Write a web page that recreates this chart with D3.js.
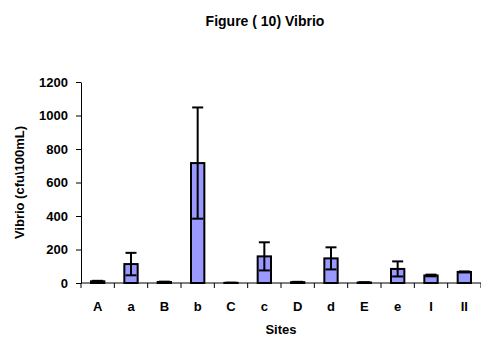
<!DOCTYPE html>
<html lang="en">
<head>
  <meta charset="UTF-8">
  <title>Figure (10) Vibrio</title>
  <script src="https://d3js.org/d3.v7.min.js"></script>
  <style>
    body {
      margin: 0;
      background: #fff;
      font-family: "Liberation Sans", Arial, sans-serif;
    }
    text {
      font-weight: bold;
      fill: #000;
    }
    .axis path,
    .axis line {
      stroke: #000;
      stroke-width: 1;
    }
    .axis text {
      font-size: 13px;
      font-weight: bold;
      font-family: "Liberation Sans", Arial, sans-serif;
    }
  </style>
</head>
<body>
  <svg width="481" height="340"></svg>
  <script>
    // Site labels and mean counts with their errors
    const sites = ["A", "a", "B", "b", "C", "c", "D", "d", "E", "e", "I", "II"];
    const means = [10, 113, 6, 716, 1, 159, 5, 147, 3, 84, 45, 66];
    const errors = [3, 67, 2, 332, 1, 84, 2, 66, 1, 45, 5, 3];
    const yTicks = [0, 200, 400, 600, 800, 1000, 1200];

    const margin = { top: 82, right: 0, bottom: 57, left: 81 };
    const width = 481 - margin.left - margin.right;
    const height = 340 - margin.top - margin.bottom;

    const svg = d3.select("svg");
    const chart = svg.append("g")
      .attr("transform", `translate(${margin.left},${margin.top})`);

    const data = sites.map((s, i) => ({ site: s, mean: means[i], err: errors[i] }));

    const x = d3.scaleBand()
      .domain(sites)
      .range([0, width])
      .paddingInner(0.6)
      .paddingOuter(0.3);

    const y = d3.scaleLinear()
      .domain([0, 1200])
      .range([height, 0]);

    // Title
    svg.append("text")
      .attr("x", 265)
      .attr("y", 26)
      .attr("text-anchor", "middle")
      .style("font-size", "14px")
      .text("Figure ( 10) Vibrio");

    // Y axis
    chart.append("g")
      .attr("class", "axis")
      .call(d3.axisLeft(y).tickValues(yTicks).tickFormat(d3.format("d"))
        .tickSize(5).tickPadding(8).tickSizeOuter(0));

    // X axis with ticks between categories
    const xAxis = chart.append("g")
      .attr("class", "axis")
      .attr("transform", `translate(0,${height})`);
    xAxis.append("line")
      .attr("x1", 0).attr("x2", width)
      .attr("y1", 0).attr("y2", 0);
    const step = x.step();
    const start = x(sites[0]) - step * x.paddingInner() / 2;
    xAxis.selectAll(".sep")
      .data(d3.range(sites.length + 1))
      .enter().append("line")
      .attr("x1", i => start + i * step)
      .attr("x2", i => start + i * step)
      .attr("y1", 0).attr("y2", 5);
    xAxis.selectAll(".lbl")
      .data(sites)
      .enter().append("text")
      .attr("x", d => x(d) + x.bandwidth() / 2)
      .attr("y", 28)
      .attr("text-anchor", "middle")
      .text(d => d);

    // Bars
    chart.selectAll(".bar")
      .data(data)
      .enter().append("rect")
      .attr("class", "bar")
      .attr("x", d => x(d.site))
      .attr("y", d => y(d.mean))
      .attr("width", x.bandwidth())
      .attr("height", d => height - y(d.mean))
      .attr("fill", "#9999ff")
      .attr("stroke", "#000")
      .attr("stroke-width", 2);

    // Error bars
    const cap = 5.5;
    const cx = d => x(d.site) + x.bandwidth() / 2;
    const lo = d => y(Math.max(0, d.mean - d.err));
    const hi = d => y(d.mean + d.err);
    const eb = chart.selectAll(".err")
      .data(data)
      .enter().append("g")
      .attr("stroke", "#000")
      .attr("stroke-width", 2);
    eb.append("line")
      .attr("x1", cx).attr("x2", cx)
      .attr("y1", lo).attr("y2", hi);
    eb.append("line")
      .attr("x1", d => cx(d) - cap).attr("x2", d => cx(d) + cap)
      .attr("y1", hi).attr("y2", hi);
    eb.append("line")
      .attr("x1", d => cx(d) - cap).attr("x2", d => cx(d) + cap)
      .attr("y1", lo).attr("y2", lo);

    // Axis labels
    svg.append("text")
      .attr("x", margin.left + width / 2)
      .attr("y", 334)
      .attr("text-anchor", "middle")
      .style("font-size", "13px")
      .text("Sites");

    svg.append("text")
      .attr("transform", `translate(24,${margin.top + height / 2}) rotate(-90)`)
      .attr("text-anchor", "middle")
      .style("font-size", "13px")
      .text("Vibrio (cfu\\100mL)");
  </script>
</body>
</html>
